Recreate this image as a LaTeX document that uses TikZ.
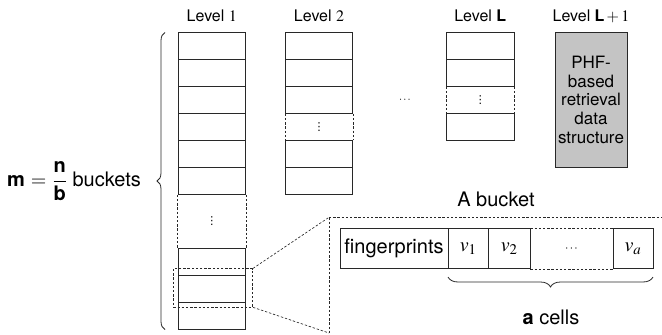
\documentclass[tikz,border=0pt]{standalone}
\usepackage{mathptmx}
\usepackage[no-math]{fontspec}
\setmainfont{TeX Gyre Heros}
\newfontfamily\dvsans{DejaVu Sans}
\usetikzlibrary{decorations.pathreplacing}
\definecolor{boxgray}{RGB}{196,196,196}
\definecolor{linegray}{RGB}{40,40,40}
\begin{document}
\begin{tikzpicture}[x=1pt,y=-1pt,
  cell/.style={draw=linegray,line width=0.75pt,rectangle,inner sep=0pt,minimum width=67.5pt,minimum height=27pt},
  vd/.style={inner sep=0pt,font=\dvsans\fontsize{11}{12}\selectfont},
  dline/.style={draw=linegray,line width=0.65pt,dash pattern=on 2.4pt off 1.8pt},
  lvl/.style={font=\fontsize{16}{18}\selectfont,anchor=base},
  lab/.style={font=\fontsize{20}{22}\selectfont},
  bcell/.style={draw=linegray,line width=0.75pt,rectangle,inner sep=0pt,minimum height=40pt,font=\fontsize{20}{22}\selectfont},
  brc/.style={draw=linegray,line width=0.8pt,decorate}]
\useasboundingbox (0,0) rectangle (662,335);

% Level labels
\node[lvl] (l1) at (211.75,21) {Level $1$};
\node[lvl] (l2) at (319,21) {Level $2$};
\node[lvl] (lL) at (480.25,21) {Level \textbf{L}};
\node[lvl] (lL1) at (591,21) {Level \textbf{L}${}+1$};

% Level 1
\foreach \i in {0,...,5} \node[cell] (a\i) at (211.75,{46+27*\i}) {};
\node[cell] (a6) at (211.75,262) {};
\node[cell] (a7) at (211.75,289) {};
\node[cell] (a8) at (211.75,316) {};
\draw[dline] (a5.south west) -- (a6.north west) (a5.south east) -- (a6.north east);
\node[vd] (ad) at (211.75,221.5) {⋮};

% Level 2
\foreach \i in {0,...,2} \node[cell] (b\i) at (319,{46+27*\i}) {};
\node[cell] (b3) at (319,154) {};
\node[cell] (b4) at (319,181) {};
\draw[dline] (b2.south west) -- (b3.north west) (b2.south east) -- (b3.north east);
\node[vd] (bd) at (319,127) {⋮};

% dots between levels
\node[font=\fontsize{11}{12}\selectfont] (mid) at (405,100) {$\cdots$};

% Level L
\node[cell] (c0) at (480.25,46) {};
\node[cell] (c1) at (480.25,73) {};
\node[cell] (c2) at (480.25,127) {};
\draw[dline] (c1.south west) -- (c2.north west) (c1.south east) -- (c2.north east);
\node[vd] (cd) at (480.25,100) {⋮};

% Level L+1
\node[draw=linegray,line width=0.75pt,fill=boxgray,inner sep=0pt,minimum width=72pt,minimum height=134.5pt,
      align=center,font=\fontsize{17}{18.7}\selectfont] (phf) at (591,99.75) {PHF-\\based\\retrieval\\data\\structure};

% left brace and label
\draw[brc,decoration={brace,amplitude=8pt}] (165,329.5) -- (165,32.5);
\node[lab] (mlab) at (74,181) {\textbf{m}\hspace{6pt}$=$\hspace{6pt}$\displaystyle\frac{\textbf{n}}{\textbf{b}}$ buckets};

% zoom rectangle
\node[dline,rectangle,inner sep=0pt,minimum width=79.4pt,minimum height=38.3pt] (zoom) at (213,287.85) {};
\coordinate (btl) at (329,217.3);
\coordinate (bbl) at (329,333);
\coordinate (btr) at (662,217.3);
\coordinate (bbot) at (329,335);
\draw[dline] (zoom.north east) -- (btl);
\draw[dline] (zoom.south east) -- (bbl);
\draw[dline] (btl) -- (btr);
\draw[dline] (btl) -- (bbot);

% bucket
\node[lab] (abucket) at (496,199) {A bucket};
\node[bcell,minimum width=108pt] (fp) at (394,248.5) {fingerprints};
\node[bcell,minimum width=40.5pt] (v1) at (468.25,248.5) {$v_1$};
\node[bcell,minimum width=41.5pt] (v2) at (509.25,248.5) {$v_2$};
\node[bcell,minimum width=40pt] (va) at (633,248.5) {$v_a$};
\draw[dline] (v2.north east) -- (va.north west) (v2.south east) -- (va.south west);
\node[font=\fontsize{12}{13}\selectfont] (vdots) at (571.5,248.5) {$\cdots$};
\draw[brc,decoration={brace,amplitude=10pt}] (653,277) -- (448,277);
\node[lab] (acells) at (551,317) {\textbf{a} cells};
\end{tikzpicture}
\end{document}
